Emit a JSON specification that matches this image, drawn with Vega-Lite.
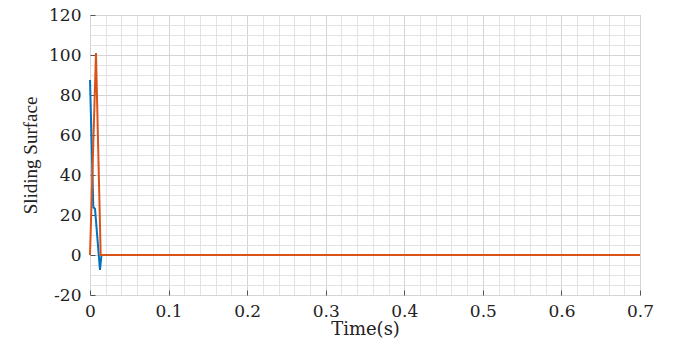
{
  "$schema": "https://vega.github.io/schema/vega-lite/v6.json",
  "autosize": "none",
  "width": 550,
  "height": 280,
  "padding": {"left": 90, "top": 15, "right": 33, "bottom": 46},
  "background": "white",
  "config": {"view": {"stroke": "#555555", "strokeWidth": 1}},
  "data": {"values": [
    {"t": 0, "v": 87.5, "s": "a"},
    {"t": 0.0042, "v": 24, "s": "a"},
    {"t": 0.0064, "v": 23, "s": "a"},
    {"t": 0.0127, "v": -7.5, "s": "a"},
    {"t": 0.0146, "v": 0, "s": "a"},
    {"t": 0.1, "v": 0, "s": "a"},
    {"t": 0.7, "v": 0, "s": "a"},
    {"t": 0, "v": 0, "s": "b"},
    {"t": 0.0076, "v": 101, "s": "b"},
    {"t": 0.0136, "v": 0, "s": "b"},
    {"t": 0.1, "v": 0, "s": "b"},
    {"t": 0.7, "v": 0, "s": "b"}
  ]},
  "layer": [
    {
      "mark": {"type": "line", "strokeOpacity": 0},
      "encoding": {
        "x": {"field": "t", "type": "quantitative", "scale": {"domain": [0, 0.7], "nice": false, "zero": false},
          "axis": {"orient": "top", "values": [0,0.02,0.04,0.06,0.08,0.1,0.12,0.14,0.16,0.18,0.2,0.22,0.24,0.26,0.28,0.3,0.32,0.34,0.36,0.38,0.4,0.42,0.44,0.46,0.48,0.5,0.52,0.54,0.56,0.58,0.6,0.62,0.64,0.66,0.68,0.7],
            "labels": false, "ticks": false, "domain": false, "title": null, "grid": true, "gridColor": "#e3e3e3", "gridWidth": 1}},
        "y": {"field": "v", "type": "quantitative", "scale": {"domain": [-20, 120], "nice": false, "zero": false},
          "axis": {"orient": "right", "values": [-20,-15,-10,-5,0,5,10,15,20,25,30,35,40,45,50,55,60,65,70,75,80,85,90,95,100,105,110,115,120],
            "labels": false, "ticks": false, "domain": false, "title": null, "grid": true, "gridColor": "#e3e3e3", "gridWidth": 1}}
      }
    },
    {
      "mark": {"type": "line", "strokeWidth": 2},
      "encoding": {
        "x": {"field": "t", "type": "quantitative", "scale": {"domain": [0, 0.7], "nice": false, "zero": false},
          "axis": {"orient": "bottom", "values": [0,0.1,0.2,0.3,0.4,0.5,0.6,0.7], "format": "~g", "grid": true, "gridColor": "#d4d4d4",
            "domain": false, "tickSize": -5, "tickColor": "#555555", "labelPadding": 13, "labelFlush": false, "labelFont": "DejaVu Serif", "labelFontSize": 17, "labelColor": "#222222",
            "title": "Time(s)", "titleFont": "DejaVu Serif", "titleFontSize": 18, "titleFontWeight": "normal", "titleColor": "#222222", "titlePadding": 1}},
        "y": {"field": "v", "type": "quantitative", "scale": {"domain": [-20, 120], "nice": false, "zero": false},
          "axis": {"orient": "left", "values": [-20,0,20,40,60,80,100,120], "labelExpr": "replace(datum.label, '\u2212', '-')", "grid": true, "gridColor": "#d4d4d4",
            "domain": false, "tickSize": -5, "tickColor": "#555555", "labelPadding": 14, "labelFlush": false, "labelFont": "DejaVu Serif", "labelFontSize": 17, "labelColor": "#222222",
            "title": "Sliding Surface", "titleFont": "Liberation Serif", "titleFontSize": 19, "titleFontWeight": "normal", "titleColor": "#222222", "titlePadding": 8}},
        "color": {"field": "s", "type": "nominal", "scale": {"domain": ["a", "b"], "range": ["#0072BD", "#D95319"]}, "legend": null}
      }
    }
  ],
  "resolve": {"axis": {"x": "independent", "y": "independent"}}
}
